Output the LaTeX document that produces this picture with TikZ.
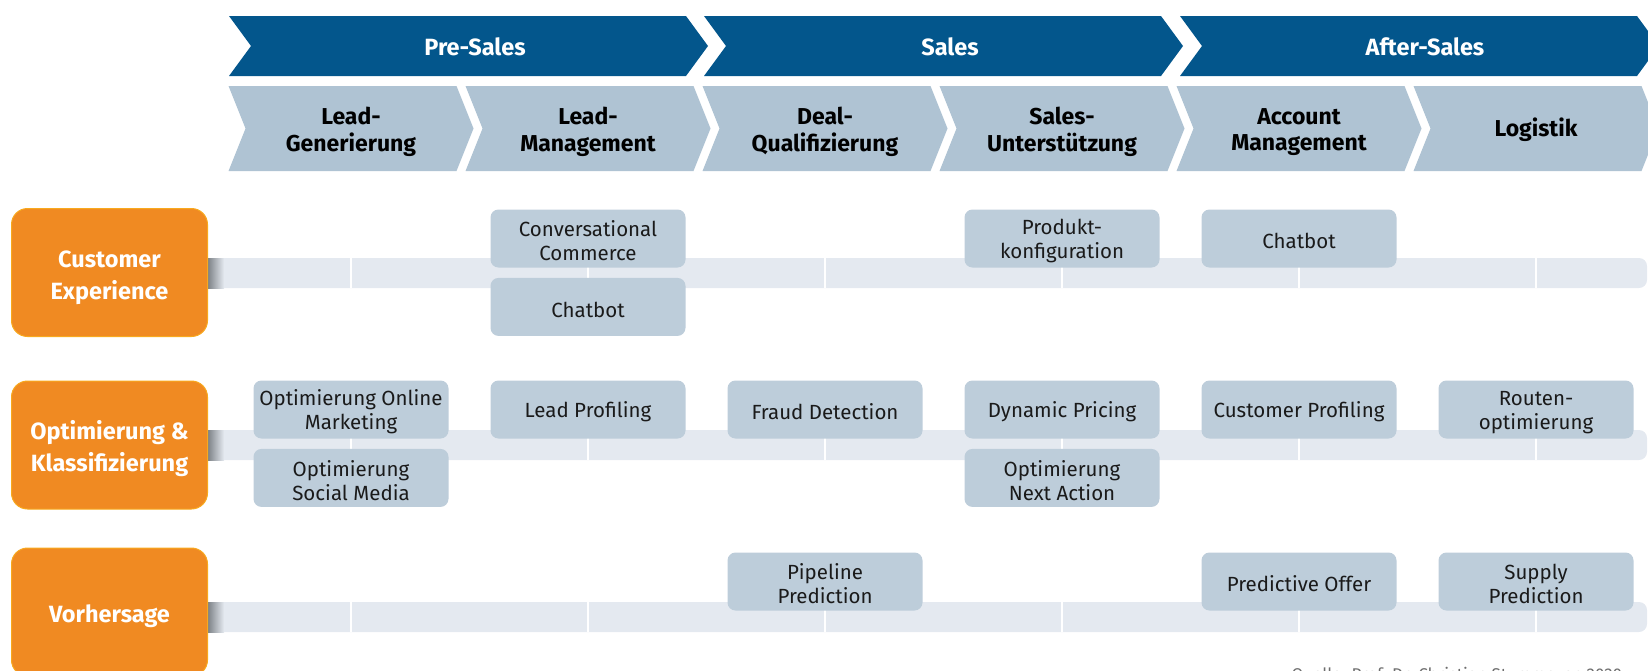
\documentclass[tikz,border=0pt]{standalone}
\usepackage{fontspec}
\setmainfont{Fira Sans}
\usetikzlibrary{positioning}
\definecolor{clrphase}{HTML}{03568C}
\definecolor{clrstage}{HTML}{AFC3D3}
\definecolor{clritem}{HTML}{BDCDDA}
\definecolor{clrband}{HTML}{E4E9F0}
\definecolor{clrshadow}{HTML}{7E8388}
\definecolor{clrcat}{HTML}{F08A22}
\definecolor{clrcatborder}{HTML}{F8A91E}
\definecolor{clrtext}{HTML}{1A1A1A}
\definecolor{clrsource}{HTML}{6E6E6E}
% chevron outline: left x, top y, body width, height, tip depth
\newcommand{\chevron}[5]{(#1,#2) -- ++(#3,0) -- ++(#5,#4/2) -- ++(-#5,#4/2) -- ++(-#3,0) -- ++(#5,-#4/2) -- cycle}
% taller first line, pushes the text block down a little
\newcommand{\lift}[1]{\rule{0pt}{#1}}

\begin{document}
\begin{tikzpicture}[
    x=1pt, y=-1pt,
    every node/.style={font=\fontsize{20}{23}\selectfont},
    phase/.style={fill=clrphase},
    stage/.style={fill=clrstage},
    phasetext/.style={font=\fontsize{23.5}{27}\selectfont\bfseries, text=white},
    stagetext/.style={font=\fontsize{23}{26.5}\selectfont\bfseries, text=black, align=center},
    category/.style={draw=clrcatborder, line width=1pt, fill=clrcat, rounded corners=16pt,
                     minimum width=196pt, minimum height=128pt,
                     font=\fontsize{23.5}{32}\selectfont\bfseries, text=white, align=center},
    band/.style={fill=clrband, rounded corners=8pt},
    divider/.style={draw=white, line width=2.5pt},
    usecase/.style={fill=clritem, rounded corners=8pt, minimum width=195pt, minimum height=58pt,
                    inner sep=2pt, text=clrtext, align=center, font=\fontsize{20.5}{24}\selectfont},
]
\useasboundingbox (0,0) rectangle (1648,670);
% phases
\fill[phase] \chevron{229}{16}{457}{60}{22};
\node[phasetext] (n_1) at (475,47) {Pre-Sales};
\fill[phase] \chevron{704}{16}{457}{60}{22};
\node[phasetext] (n_2) at (950,47) {Sales};
\fill[phase] \chevron{1180}{16}{457}{60}{22};
\node[phasetext] (n_3) at (1425,47) {After-Sales};
% stages
\fill[stage] \chevron{228.5}{86}{228}{85}{17};
\node[stagetext] (n_1_1) at (351,132) {Lead-\\Generierung};
\fill[stage] \chevron{465.5}{86}{228}{85}{17};
\node[stagetext] (n_1_2) at (588,132) {Lead-\\Management};
\fill[stage] \chevron{702.5}{86}{228}{85}{17};
\node[stagetext] (n_2_1) at (825,132) {Deal-\\Qualifizierung};
\fill[stage] \chevron{939.5}{86}{228}{85}{17};
\node[stagetext] (n_2_2) at (1062,132) {Sales-\\Unterstützung};
\fill[stage] \chevron{1176.5}{86}{228}{85}{17};
\node[stagetext] (n_3_1) at (1299,132) {Account\\Management};
\fill[stage] \chevron{1413.5}{86}{228}{85}{17};
\node[stagetext] (n_3_2) at (1536,130) {Logistik};
% row bands
\fill[band] (208,258) rectangle (1647,288);
\fill[band] (208,430) rectangle (1647,460);
\fill[band] (208,602) rectangle (1647,632);
\shade[left color=clrshadow, right color=clrband] (208,258) rectangle (224,288);
\shade[left color=clrshadow, right color=clrband] (208,430) rectangle (224,460);
\shade[left color=clrshadow, right color=clrband] (208,602) rectangle (224,632);
\draw[divider] (351,258) -- (351,288) (588,258) -- (588,288) (825,258) -- (825,288)
    (1062,258) -- (1062,288) (1299,258) -- (1299,288) (1536,258) -- (1536,288);
\draw[divider] (351,430) -- (351,460) (588,430) -- (588,460) (825,430) -- (825,460)
    (1062,430) -- (1062,460) (1299,430) -- (1299,460) (1536,430) -- (1536,460);
\draw[divider] (351,602) -- (351,632) (588,602) -- (588,632) (825,602) -- (825,632)
    (1062,602) -- (1062,632) (1299,602) -- (1299,632) (1536,602) -- (1536,632);
% categories
\node[category] (r_1) at (109.5,272.5) {\lift{27pt}Customer\\Experience};
\node[category] (r_2) at (109.5,445) {\lift{27pt}Optimierung \&\\Klassifizierung};
\node[category] (r_3) at (109.5,612) {\lift{27pt}Vorhersage};
% use cases
\node[usecase] (u_1_2) at (588,238.5) {\lift{20.5pt}Conversational\\Commerce};
\node[usecase, below=10pt of u_1_2] (u_1_2b) {\lift{20.5pt}Chatbot};
\node[usecase] (u_1_4) at (1062,238.5) {\lift{20.5pt}Produkt-\\konfiguration};
\node[usecase] (u_1_5) at (1299,238.5) {\lift{20.5pt}Chatbot};
\node[usecase] (u_2_1) at (351,409.5) {\lift{20.5pt}Optimierung Online\\Marketing};
\node[usecase, below=10pt of u_2_1] (u_2_1b) {\lift{20.5pt}Optimierung\\Social Media};
\node[usecase] (u_2_2) at (588,409.5) {\lift{20.5pt}Lead Profiling};
\node[usecase] (u_2_3) at (825,409.5) {\lift{20.5pt}Fraud Detection};
\node[usecase] (u_2_4) at (1062,409.5) {\lift{20.5pt}Dynamic Pricing};
\node[usecase, below=10pt of u_2_4] (u_2_4b) {\lift{20.5pt}Optimierung\\Next Action};
\node[usecase] (u_2_5) at (1299,409.5) {\lift{20.5pt}Customer Profiling};
\node[usecase] (u_2_6) at (1536,409.5) {\lift{20.5pt}Routen-\\optimierung};
\node[usecase] (u_3_3) at (825,581.5) {\lift{20.5pt}Pipeline\\Prediction};
\node[usecase] (u_3_5) at (1299,581.5) {\lift{20.5pt}Predictive Offer};
\node[usecase] (u_3_6) at (1536,581.5) {\lift{20.5pt}Supply\\Prediction};
\node[anchor=base west, font=\fontsize{17}{20}\selectfont, text=clrsource] (n_src) at (1288,680) {Quelle: Prof. Dr. Christian Stummeyer, 2020};
\end{tikzpicture}
\end{document}
